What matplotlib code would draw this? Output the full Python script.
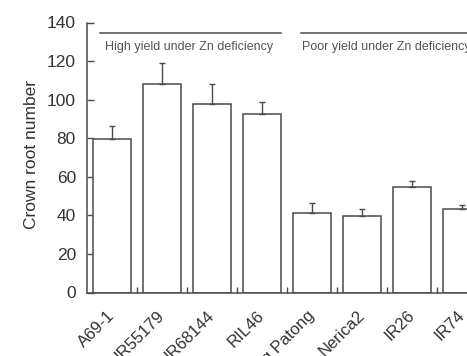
import numpy as np
import matplotlib
matplotlib.use("Agg")
import matplotlib.pyplot as plt

# --- data ---
cultivars = ["A69-1", "IR55179", "IR68144", "RIL46",
             "Kinandang Patong", "Nerica2", "IR26", "IR74"]
crown_roots = [79.5, 108, 98, 92.5, 41, 39.5, 54.5, 43.5]
sem = [7, 11, 10, 6.5, 5.5, 4, 3.5, 2]
groups = ["High yield under Zn deficiency", "Poor yield under Zn deficiency"]

LINE = "#4a4a4a"
TEXT = "#333333"

plt.rcParams.update({
    "font.family": ["Liberation Sans", "DejaVu Sans"],
    "axes.spines.top": False,
    "axes.spines.right": False,
})

fig = plt.figure(figsize=(4.67, 3.56), dpi=100)
# axes run past the right edge: the reference is a crop of a wider figure
ax = fig.add_axes([87 / 467, 63.5 / 356, 400 / 467, 270 / 356])

x = np.arange(len(cultivars))
ax.bar(x, crown_roots, width=0.76, color="white", edgecolor=LINE,
       linewidth=1.1, zorder=2)
ax.errorbar(x, crown_roots, yerr=[np.zeros(len(sem)), sem], fmt="none",
            ecolor=LINE, elinewidth=1.0, capsize=2.5, capthick=1.0, zorder=3)

ax.set_xlim(-0.5, 7.5)
ax.set_ylim(0, 140)
ax.set_yticks(range(0, 141, 20))
ax.set_ylabel("Crown root number", fontsize=12.5, color=TEXT, labelpad=6)
ax.yaxis.label.set_y(0.51)

ax.set_xticks(x)
ax.set_xticklabels(cultivars, rotation=45, ha="right", va="center",
                   rotation_mode="anchor", fontsize=12, color=TEXT)
ax.set_xticks(x[:-1] + 0.5, minor=True)
ax.tick_params(axis="x", which="major", length=0, pad=15)
ax.tick_params(axis="x", which="minor", direction="in", length=4,
               width=1.0, color=LINE)
ax.tick_params(axis="y", direction="in", length=5, width=1.0, color=LINE,
               labelsize=12.5, labelcolor=TEXT, pad=8)
for side in ["left", "bottom"]:
    ax.spines[side].set_color(LINE)
    ax.spines[side].set_linewidth(1.1)

# group brackets
ax.plot([-0.24, 3.38], [134.4, 134.4], color=LINE, lw=1.1, clip_on=False)
ax.plot([3.77, 7.6], [134.4, 134.4], color=LINE, lw=1.1, clip_on=False)
ax.text(-0.14, 127.5, groups[0], fontsize=9, color="#555555", va="center")
ax.text(3.81, 127.5, groups[1], fontsize=9, color="#555555", va="center")

fig.savefig("out.png", dpi=100, facecolor="white")
